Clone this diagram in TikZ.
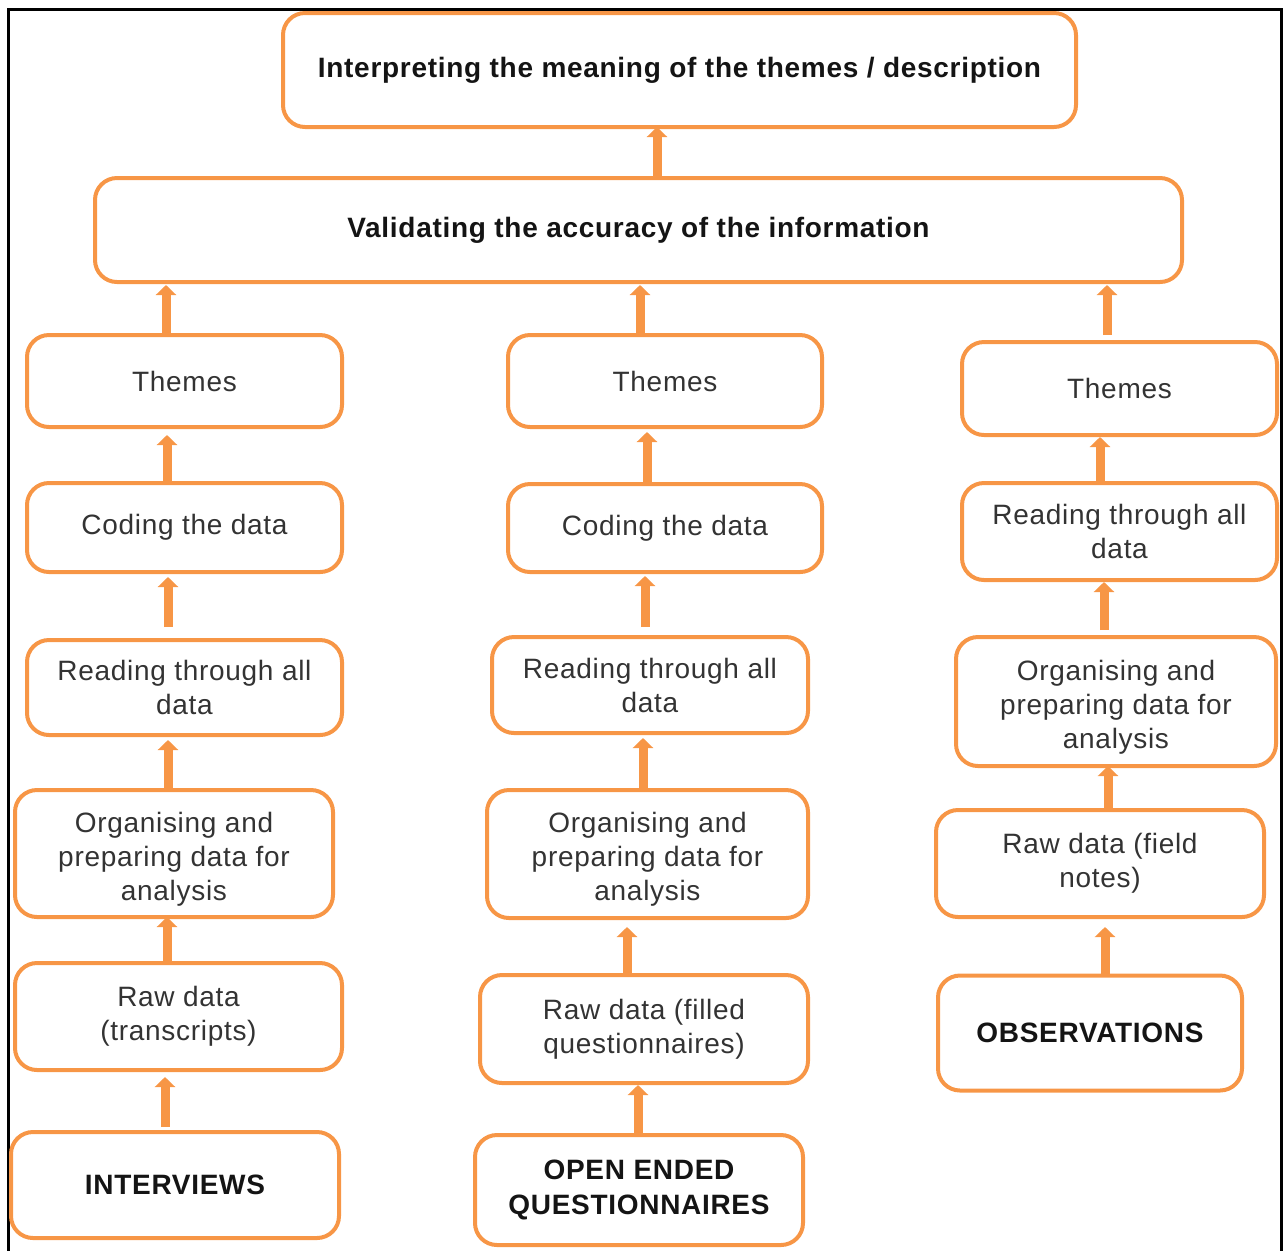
\documentclass[tikz,border=0pt]{standalone}
\usepackage{fontspec}
\setmainfont{Liberation Sans}[LetterSpace=2.5]
\usetikzlibrary{arrows.meta}
\definecolor{boxorange}{HTML}{F79646}
\definecolor{txtgray}{HTML}{333333}
\definecolor{txtblack}{HTML}{141414}
\newcommand{\threelines}[3]{\raisebox{-6.5pt}[0pt][0pt]{\begin{tabular}{@{}c@{}}#1\\#2\\#3\end{tabular}}}
\tikzset{
  flowbox/.style={draw=boxorange, line width=2pt, rounded corners=11pt, inner sep=0pt,
    outer sep=0pt, align=center, font=\fontsize{14}{17}\selectfont, text=txtgray},
  boldbox/.style={flowbox, font=\fontsize{14}{17.5}\selectfont\bfseries, text=txtblack},
  sz/.style 2 args={minimum width=#1*0.5pt, minimum height=#2*0.5pt},
  uparrow/.style={draw=boxorange, line width=4.5pt, -{Triangle[width=10pt,length=5pt]}},
  framebox/.style={draw=black, line width=1.5pt},
}
\begin{document}
\begin{tikzpicture}[x=0.5pt,y=-0.5pt]
\useasboundingbox (0,0) rectangle (1285,1250);
\draw[framebox] (8,1252) -- (8,9) -- (1281,9) -- (1281,1252);

% top
\node[boldbox, sz={793}{114}] (top) at (679.5,70) {Interpreting the meaning of the themes / description};
\node[boldbox, sz={1087}{104}] (val) at (638.5,230) {Validating the accuracy of the information};

% left column
\node[flowbox, sz={315}{92}]  (t1) at (184.5,381)   {Themes};
\node[flowbox, sz={315}{89}]  (c1) at (184.5,527.5) {Coding the data};
\node[flowbox, sz={315}{95}]  (r1) at (184.5,687.5) {Reading through all\\data};
\node[flowbox, sz={318}{127}] (o1) at (174,853.5)   {\threelines{Organising and}{preparing data for}{analysis}};
\node[flowbox, sz={327}{107}] (w1) at (178.5,1016.5) {Raw data\\(transcripts)};
\node[boldbox, sz={328}{106}] (i1) at (175,1185)    {INTERVIEWS};

% middle column
\node[flowbox, sz={314}{92}]  (t2) at (665,381)     {Themes};
\node[flowbox, sz={314}{88}]  (c2) at (665,528)     {Coding the data};
\node[flowbox, sz={316}{96}]  (r2) at (650,685)     {Reading through all\\data};
\node[flowbox, sz={321}{128}] (o2) at (647.5,854)   {\threelines{Organising and}{preparing data for}{analysis}};
\node[flowbox, sz={328}{108}] (w2) at (644,1029)    {Raw data (filled\\questionnaires)};
\node[boldbox, sz={328}{110}] (q2) at (639,1190)    {OPEN ENDED\\QUESTIONNAIRES};

% right column
\node[flowbox, sz={315}{93}]  (t3) at (1119.5,388.5) {Themes};
\node[flowbox, sz={315}{97}]  (r3) at (1119.5,531.5) {Reading through all\\data};
\node[flowbox, sz={320}{129}] (o3) at (1116,701.5)   {\threelines{Organising and}{preparing data for}{analysis}};
\node[flowbox, sz={328}{107}] (w3) at (1100,863.5)   {Raw data (field\\notes)};
\node[boldbox, sz={304}{115}] (b3) at (1090,1033)    {OBSERVATIONS};

% arrows
\draw[uparrow] (val.north -| 657,0) -- (top.south -| 657,0);

\draw[uparrow, shorten >=1.5pt] (t1.north -| 166,0) -- (val.south -| 166,0);
\draw[uparrow, shorten >=4pt] (c1.north -| 167,0) -- (t1.south -| 167,0);
\draw[uparrow, shorten <=6.5pt, shorten >=2.5pt] (r1.north -| 168,0) -- (c1.south -| 168,0);
\draw[uparrow, shorten >=2.5pt] (o1.north -| 168,0) -- (r1.south -| 168,0);
\draw[uparrow] (w1.north -| 167,0) -- (o1.south -| 167,0);
\draw[uparrow, shorten <=2.5pt, shorten >=3.5pt] (i1.north -| 165,0) -- (w1.south -| 165,0);

\draw[uparrow, shorten >=1.5pt] (t2.north -| 640,0) -- (val.south -| 640,0);
\draw[uparrow, shorten >=2.5pt] (c2.north -| 647,0) -- (t2.south -| 647,0);
\draw[uparrow, shorten <=5pt, shorten >=2pt] (r2.north -| 645,0) -- (c2.south -| 645,0);
\draw[uparrow, shorten >=2.5pt] (o2.north -| 643,0) -- (r2.south -| 643,0);
\draw[uparrow, shorten >=4.5pt] (w2.north -| 627,0) -- (o2.south -| 627,0);
\draw[uparrow, shorten >=1pt] (q2.north -| 638,0) -- (w2.south -| 638,0);

\draw[uparrow, shorten <=3.5pt, shorten >=1.5pt] (t3.north -| 1107,0) -- (val.south -| 1107,0);
\draw[uparrow, shorten >=1pt] (r3.north -| 1100,0) -- (t3.south -| 1100,0);
\draw[uparrow, shorten <=3.5pt, shorten >=1pt] (o3.north -| 1104,0) -- (r3.south -| 1104,0);
\draw[uparrow] (w3.north -| 1108,0) -- (o3.south -| 1108,0);
\draw[uparrow, shorten >=5pt] (b3.north -| 1105,0) -- (w3.south -| 1105,0);
\end{tikzpicture}
\end{document}
